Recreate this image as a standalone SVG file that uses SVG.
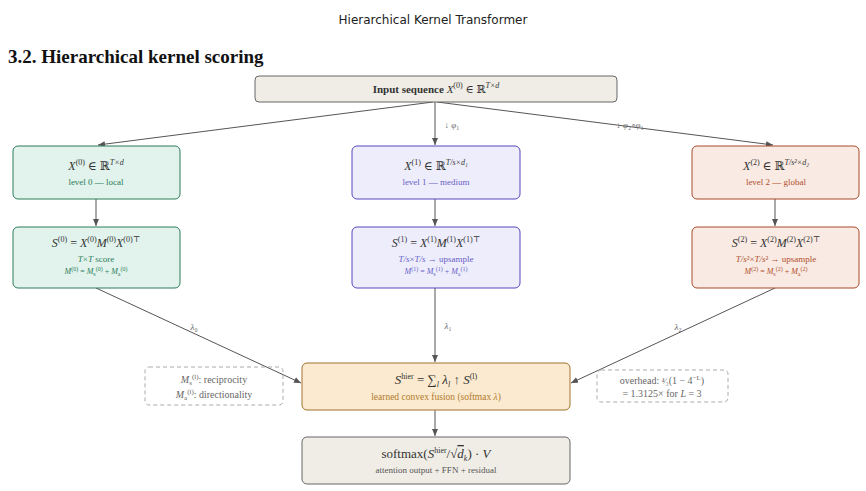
<svg xmlns="http://www.w3.org/2000/svg" width="866" height="491" viewBox="0 0 866 491">
<defs>
<marker id="ah" markerWidth="8" markerHeight="8" refX="7" refY="4" orient="auto" markerUnits="userSpaceOnUse"><path d="M0,1 L7,4 L0,7 Z" fill="#555"/></marker>
<style>
text{font-family:"Liberation Serif","DejaVu Serif",serif;text-anchor:middle}
.m{font-size:12px;fill:#333}
.s{font-size:9px}
.i{font-style:italic}
.sup{font-size:8px}
.c line,.c path{stroke:#555;stroke-width:1;fill:none;marker-end:url(#ah)}
.lab{font-size:9px;fill:#666}
.g rect{fill:#e1f3ec;stroke:#2e7d5b}
.g .s{fill:#2e7d5b}
.p rect{fill:#ededfb;stroke:#5548c0}
.p .s{fill:#6a5fc8}
.r rect{fill:#f9eae3;stroke:#a84a2a}
.r .s{fill:#b0502e}
.note rect{fill:none;stroke:#aaa;stroke-dasharray:4 3}
.note text{font-size:10px;fill:#666}
</style>
</defs>
<rect width="866" height="491" fill="#fff"/>
<text x="433" y="24" style="font-family:'DejaVu Sans',sans-serif;font-size:12px;fill:#222">Hierarchical Kernel Transformer</text>
<text x="8" y="63" style="text-anchor:start;font-size:19px;font-weight:bold;fill:#111">3.2. Hierarchical kernel scoring</text>

<g class="c">
<line x1="433" y1="102" x2="98" y2="145"/>
<line x1="435" y1="102" x2="435" y2="145"/>
<line x1="437" y1="102" x2="773" y2="145"/>
<line x1="96" y1="199" x2="96" y2="226"/>
<line x1="435" y1="199" x2="435" y2="226"/>
<line x1="775" y1="199" x2="775" y2="226"/>
<line x1="96" y1="288" x2="301" y2="383"/>
<line x1="435" y1="288" x2="435" y2="362"/>
<line x1="775" y1="288" x2="571" y2="383"/>
<line x1="435" y1="410" x2="435" y2="436"/>
<text class="lab" x="452" y="128">↓ <tspan class="i">φ</tspan>₁</text>
<text class="lab" x="630" y="128">↓ <tspan class="i">φ</tspan>₂∘<tspan class="i">φ</tspan>₁</text>
<text class="lab" x="194" y="330" font-size="10"><tspan class="i">λ</tspan>₀</text>
<text class="lab" x="448" y="329" font-size="10"><tspan class="i">λ</tspan>₁</text>
<text class="lab" x="678" y="330" font-size="10"><tspan class="i">λ</tspan>₂</text>
</g>

<g id="input"><rect x="255" y="76" width="362" height="26" rx="4" fill="#f0ede6" stroke="#666"/>
<text class="m" x="436" y="93" style="font-size:11px"><tspan font-weight="bold">Input sequence </tspan><tspan class="i">X</tspan><tspan class="sup" dy="-5">(0)</tspan><tspan dy="5"> ∈ ℝ</tspan><tspan class="sup i" dy="-5">T×d</tspan></text></g>

<g id="x0" class="g"><rect x="13" y="146" width="167" height="53" rx="5"/>
<text class="m" x="96" y="170"><tspan class="i">X</tspan><tspan class="sup" dy="-5">(0)</tspan><tspan dy="5"> ∈ ℝ</tspan><tspan class="sup i" dy="-5">T×d</tspan></text>
<text class="s" x="96" y="185">level 0 — local</text></g>
<g id="x1" class="p"><rect x="352" y="146" width="168" height="53" rx="5"/>
<text class="m" x="436" y="170"><tspan class="i">X</tspan><tspan class="sup" dy="-5">(1)</tspan><tspan dy="5"> ∈ ℝ</tspan><tspan class="sup i" dy="-5">T/s×d₁</tspan></text>
<text class="s" x="436" y="185">level 1 — medium</text></g>
<g id="x2" class="r"><rect x="692" y="146" width="167" height="53" rx="5"/>
<text class="m" x="776" y="170"><tspan class="i">X</tspan><tspan class="sup" dy="-5">(2)</tspan><tspan dy="5"> ∈ ℝ</tspan><tspan class="sup i" dy="-5">T/s²×d₂</tspan></text>
<text class="s" x="776" y="185">level 2 — global</text></g>

<g id="s0" class="g"><rect x="13" y="227" width="167" height="61" rx="5"/>
<text class="m" x="96" y="247"><tspan class="i">S</tspan><tspan class="sup" dy="-5">(0)</tspan><tspan dy="5"> = </tspan><tspan class="i">X</tspan><tspan class="sup" dy="-5">(0)</tspan><tspan class="i" dy="5">M</tspan><tspan class="sup" dy="-5">(0)</tspan><tspan class="i" dy="5">X</tspan><tspan class="sup" dy="-5">(0)⊤</tspan></text>
<text class="s" x="96" y="262"><tspan class="i">T</tspan>×<tspan class="i">T</tspan> score</text>
<text class="s" x="96" y="274" style="font-size:8px"><tspan class="i">M</tspan><tspan dy="-3" font-size="6">(0)</tspan><tspan dy="3"> = </tspan><tspan class="i">M</tspan><tspan font-size="6" dy="2">s</tspan><tspan font-size="6" dy="-5">(0)</tspan><tspan dy="3"> + </tspan><tspan class="i">M</tspan><tspan font-size="6" dy="2">a</tspan><tspan font-size="6" dy="-5">(0)</tspan></text></g>
<g id="s1" class="p"><rect x="352" y="227" width="168" height="61" rx="5"/>
<text class="m" x="436" y="247"><tspan class="i">S</tspan><tspan class="sup" dy="-5">(1)</tspan><tspan dy="5"> = </tspan><tspan class="i">X</tspan><tspan class="sup" dy="-5">(1)</tspan><tspan class="i" dy="5">M</tspan><tspan class="sup" dy="-5">(1)</tspan><tspan class="i" dy="5">X</tspan><tspan class="sup" dy="-5">(1)⊤</tspan></text>
<text class="s" x="436" y="262"><tspan class="i">T/s</tspan>×<tspan class="i">T/s</tspan> → upsample</text>
<text class="s" x="436" y="274" style="font-size:8px"><tspan class="i">M</tspan><tspan dy="-3" font-size="6">(1)</tspan><tspan dy="3"> = </tspan><tspan class="i">M</tspan><tspan font-size="6" dy="2">s</tspan><tspan font-size="6" dy="-5">(1)</tspan><tspan dy="3"> + </tspan><tspan class="i">M</tspan><tspan font-size="6" dy="2">a</tspan><tspan font-size="6" dy="-5">(1)</tspan></text></g>
<g id="s2" class="r"><rect x="692" y="227" width="167" height="61" rx="5"/>
<text class="m" x="776" y="247"><tspan class="i">S</tspan><tspan class="sup" dy="-5">(2)</tspan><tspan dy="5"> = </tspan><tspan class="i">X</tspan><tspan class="sup" dy="-5">(2)</tspan><tspan class="i" dy="5">M</tspan><tspan class="sup" dy="-5">(2)</tspan><tspan class="i" dy="5">X</tspan><tspan class="sup" dy="-5">(2)⊤</tspan></text>
<text class="s" x="776" y="262"><tspan class="i">T/s</tspan>²×<tspan class="i">T/s</tspan>² → upsample</text>
<text class="s" x="776" y="274" style="font-size:8px"><tspan class="i">M</tspan><tspan dy="-3" font-size="6">(2)</tspan><tspan dy="3"> = </tspan><tspan class="i">M</tspan><tspan font-size="6" dy="2">s</tspan><tspan font-size="6" dy="-5">(2)</tspan><tspan dy="3"> + </tspan><tspan class="i">M</tspan><tspan font-size="6" dy="2">a</tspan><tspan font-size="6" dy="-5">(2)</tspan></text></g>

<g id="noteL" class="note"><rect x="145" y="367" width="138" height="38" rx="4"/>
<text x="214" y="383"><tspan class="i">M</tspan><tspan font-size="7" dy="2">s</tspan><tspan font-size="7" dy="-6">(l)</tspan><tspan dy="4">: reciprocity</tspan></text>
<text x="214" y="398"><tspan class="i">M</tspan><tspan font-size="7" dy="2">a</tspan><tspan font-size="7" dy="-6">(l)</tspan><tspan dy="4">: directionality</tspan></text></g>
<g id="fusion"><rect x="302" y="363" width="268" height="47" rx="5" fill="#fbeacf" stroke="#a2702e"/>
<text class="m" x="436" y="384" style="font-size:13px"><tspan class="i">S</tspan><tspan class="sup" dy="-5">hier</tspan><tspan dy="5"> = ∑</tspan><tspan class="sup i" dy="3">l</tspan><tspan class="i" dy="-3"> λ</tspan><tspan class="sup i" dy="3">l</tspan><tspan dy="-3"> ↑ </tspan><tspan class="i">S</tspan><tspan class="sup" dy="-5">(l)</tspan></text>
<text x="436" y="400" style="font-size:9.5px;fill:#b07a2e">learned convex fusion (softmax <tspan class="i">λ</tspan>)</text></g>
<g id="noteR" class="note"><rect x="597" y="370" width="131" height="32" rx="4"/>
<text x="662" y="384">overhead: <tspan font-size="8">⁴⁄₃</tspan>(1 − 4<tspan font-size="7" dy="-4">−L</tspan><tspan dy="4">)</tspan></text>
<text x="662" y="397">= 1.3125× for <tspan class="i">L</tspan> = 3</text></g>
<g id="output"><rect x="302" y="437" width="268" height="47" rx="5" fill="#f0ede6" stroke="#666"/>
<text class="m" x="436" y="458" style="font-size:13px">softmax(<tspan class="i">S</tspan><tspan class="sup" dy="-5">hier</tspan><tspan dy="5">/√</tspan><tspan class="i" text-decoration="overline">d</tspan><tspan class="sup i" dy="3">k</tspan><tspan dy="-3">) · </tspan><tspan class="i">V</tspan></text>
<text x="436" y="473" style="font-size:9px;fill:#555">attention output + FFN + residual</text></g>
</svg>
